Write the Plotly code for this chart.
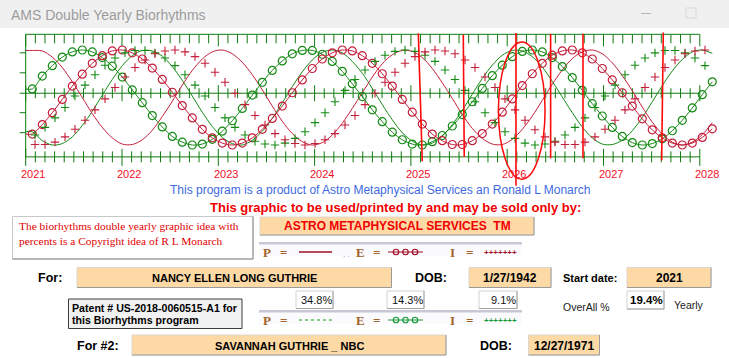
import numpy as np
import plotly.graph_objects as go

W, H = 729, 358

# ---------------- data ----------------
YEARS = [2021, 2022, 2023, 2024, 2025, 2026, 2027, 2028]
YEAR_LABELS = ["2021", "2022", "2023", "2024", "2025", "2026", "2027", "2028"]
SAMPLE_STEP = 0.10384          # years between plotted samples
E_START = 2021.0685            # first sample of the P / E series
I_START = 2021.0966            # first sample of the I series

# person 1 (red) and person 2 (green), percent of cycle amplitude
red_P = [99, 98, 85, 63, 33, 0, -34, -63, -85, -98,
         -99, -89, -69, -40, -8, 26, 57, 81, 96, 100,
         92, 74, 48, 16, -18, -50, -76, -93, -100, -95,
         -79, -54, -23, 10, 43, 71, 90, 99, 97, 84,
         61, 31, -2, -36, -65, -86, -98, -99, -88, -67,
         -39, -6, 28, 58, 82, 96, 100, 92, 73, 46,
         14, -20, -52, -77, -94, -100, -94, -78, -53]
green_P = [-72, -91, -100, -97, -83, -59, -29, 5, 38, 67,
           88, 99, 98, 87, 65, 36, 3, -31, -61, -84,
           -97, -100, -90, -71, -44, -11, 23, 54, 79, 95,
           100, 94, 76, 51, 19, -15, -47, -74, -92, -100,
           -96, -81, -57, -27, 7, 40, 68, 89, 99, 98,
           86, 64, 34, 1, -32, -62, -85, -98, -99, -90,
           -70, -42, -9, 25, 56, 80, 96, 100, 93]
red_E = [-77, -57, -32, -4, 24, 49, 72, 88, 98, 100,
         94, 81, 62, 38, 11, -17, -43, -67, -85, -96,
         -100, -96, -85, -67, -44, -18, 10, 37, 61, 81,
         94, 100, 98, 88, 72, 50, 24, -4, -31, -56,
         -77, -91, -99, -99, -91, -76, -56, -31, -3, 25,
         50, 72, 89, 98, 100, 94, 81, 61, 37, 10,
         -18, -45, -68, -85, -96, -100, -96, -84, -66]
green_E = [18, 45, 67, 85, 96, 100, 96, 84, 66, 43,
           16, -11, -38, -62, -82, -94, -100, -98, -88, -71,
           -49, -23, 5, 32, 57, 77, 92, 99, 99, 91,
           76, 55, 29, 2, -26, -51, -73, -89, -98, -100,
           -93, -80, -60, -36, -9, 19, 46, 68, 86, 97,
           100, 96, 84, 65, 42, 15, -13, -39, -63, -82,
           -95, -100, -97, -87, -70, -48, -22, 6, 33]
red_I = [-99, -99, -94, -83, -67, -48, -26, -3, 21, 43,
         63, 79, 92, 98, 100, 96, 86, 72, 53, 32,
         9, -15, -38, -58, -76, -89, -97, -100, -97, -89,
         -76, -58, -38, -15, 9, 32, 53, 72, 86, 96,
         100, 98, 92, 79, 63, 43, 21, -3, -26, -48,
         -68, -83, -94, -99, -99, -94, -83, -67, -48, -26,
         -3, 21, 43, 63, 79, 92, 98, 100]
green_I = [-79, -63, -43, -21, 3, 26, 48, 68, 83, 94,
           99, 99, 94, 83, 67, 48, 26, 3, -21, -43,
           -63, -79, -92, -98, -100, -96, -86, -72, -53, -32,
           -9, 15, 38, 58, 76, 89, 97, 100, 97, 89,
           76, 58, 38, 15, -9, -32, -53, -72, -86, -96,
           -100, -98, -92, -79, -63, -43, -21, 3, 26, 48,
           68, 83, 94, 99, 99, 94, 83, 67]

LEFT_TICK_LEVELS = [94, 52, 9, -32, -74]
MID_LEVEL = 9
BOX_TOP, BOX_BOTTOM = 133, -125

# hand-drawn red marks: (year_top, year_bottom, value_top, value_bottom)
MARK_LINES = [(2025.077, 2025.118, 135, -134),
              (2025.544, 2025.554, 132, -125),
              (2026.091, 2026.091, 136, -186),
              (2026.451, 2026.451, 134, -128),
              (2026.787, 2026.787, 134, -128),
              (2027.621, 2027.604, 137, -132)]
MARK_ELLIPSE = (2025.909, 2026.393, 117, -172)

PERSON1 = "NANCY ELLEN LONG GUTHRIE"
DOB1 = "1/27/1942"
PERSON2 = "SAVANNAH GUTHRIE _ NBC"
DOB2 = "12/27/1971"
START = "2021"
PCT_VALUES = ["34.8%", "14.3%", "9.1%"]
OVERALL_PCT = "19.4%"

# ---------------- styles ----------------
RED = "#c41e3a"
GREEN = "#148a14"
AXG = "#0f7a0f"
MARK = "#ff0a0a"
ORANGE = "#fdd9a6"
SANS = "Liberation Sans, Arial, sans-serif"
SERIF = "Liberation Serif, Times New Roman, serif"
BROWN = "#a4632a"

X0, X1 = 2020.7331, 2028.3032
Y0, Y1 = -548.42, 205.26
PXV = (Y1 - Y0) / H           # value units per pixel
PXX = (X1 - X0) / W           # years per pixel


def px2x(px):
    return X0 + px * PXX


def py2y(py):
    return Y1 - py * PXV


def fx(px):
    return px / W


def fy(py):
    return 1 - py / H


fig = go.Figure()
shapes = []
ann = []


def segs(pairs, color, width):
    X, Y = [], []
    for (xa, xb, ya, yb) in pairs:
        X += [xa, xb, None]
        Y += [ya, yb, None]
    fig.add_trace(go.Scatter(x=X, y=Y, mode="lines", line=dict(color=color, width=width),
                             hoverinfo="skip"))


# ---------------- chart frame ----------------
minor = np.round(np.arange(YEARS[0], YEARS[-1] + 0.001, 0.1), 2)
tick_pairs = []
for m in minor:
    yr = abs(m - round(m)) < 1e-6
    lt = (12 if yr else 9) * PXV
    tick_pairs.append((m, m, BOX_TOP, BOX_TOP - lt))
    hm = (8 if yr else 5) * PXV
    tick_pairs.append((m, m, MID_LEVEL - hm, MID_LEVEL + hm))
    up = (8 if yr else 5.5) * PXV
    dn = (9 if yr else 5.5) * PXV
    tick_pairs.append((m, m, BOX_BOTTOM + up, BOX_BOTTOM - dn))
for lv in LEFT_TICK_LEVELS:
    tick_pairs.append((YEARS[0] - 6 * PXX, YEARS[0], lv, lv))
tick_pairs += [(YEARS[0], YEARS[-1], BOX_TOP, BOX_TOP),
               (YEARS[0], YEARS[-1], BOX_BOTTOM, BOX_BOTTOM),
               (YEARS[0], YEARS[-1], MID_LEVEL, MID_LEVEL),
               (YEARS[0], YEARS[0], BOX_BOTTOM, BOX_TOP)]
segs(tick_pairs, AXG, 1)

# ---------------- series ----------------
e_x = E_START + SAMPLE_STEP * np.arange(len(red_E))
i_x = I_START + SAMPLE_STEP * np.arange(len(red_I))


def line_trace(vals, color, markers=False):
    xs = [YEARS[0]] + list(e_x)
    ys = [vals[0]] + list(vals)
    fig.add_trace(go.Scatter(x=xs, y=ys, mode="lines",
                             line=dict(color=color, width=1, shape="spline", smoothing=0.9),
                             hoverinfo="skip"))
    if markers:
        fig.add_trace(go.Scatter(x=e_x, y=vals, mode="markers",
                                 marker=dict(symbol="circle-open", size=8, color=color,
                                             line=dict(color=color, width=1.2)),
                                 hoverinfo="skip"))


line_trace(green_P, GREEN)
line_trace(red_P, RED)
line_trace(green_E, GREEN, True)
line_trace(red_E, RED, True)
for vals, col in [(green_I, GREEN), (red_I, RED)]:
    fig.add_trace(go.Scatter(x=i_x, y=vals, mode="markers",
                             marker=dict(symbol="cross-thin", size=6, color=col,
                                         line=dict(color=col, width=1.1)),
                             hoverinfo="skip"))

# hand-drawn red marks
for (xa, xb, ya, yb) in MARK_LINES:
    shapes.append(dict(type="line", xref="x", yref="y", x0=xa, x1=xb, y0=ya, y1=yb,
                       line=dict(color=MARK, width=1.6), layer="above"))
ex0, ex1, ey0, ey1 = MARK_ELLIPSE
shapes.append(dict(type="circle", xref="x", yref="y", x0=ex0, x1=ex1, y0=ey1, y1=ey0,
                   line=dict(color=MARK, width=1.5), layer="above"))

for yv, lab in zip(YEARS, YEAR_LABELS):
    ann.append(dict(x=yv + 0.075, y=py2y(174), xref="x", yref="y", text=lab, showarrow=False,
                    xanchor="center", yanchor="middle",
                    font=dict(size=11, color="#f0102a", family=SANS)))


# ---------------- window chrome & form ----------------
def rect(x0, y0, x1, y1, fill=None, line=None, lw=1, layer="below"):
    shapes.append(dict(type="rect", xref="paper", yref="paper", x0=fx(x0), x1=fx(x1),
                       y0=fy(y1), y1=fy(y0), fillcolor=fill or "rgba(0,0,0,0)",
                       line=dict(color=line or "rgba(0,0,0,0)", width=lw if line else 0),
                       layer=layer))


def pline(x0, y0, x1, y1, color, width=1, dash=None, layer="below"):
    d = dict(color=color, width=width)
    if dash:
        d["dash"] = dash
    shapes.append(dict(type="line", xref="paper", yref="paper", x0=fx(x0), x1=fx(x1),
                       y0=fy(y0), y1=fy(y1), line=d, layer=layer))


def text(px, py, s, size, color, bold=False, family=SANS, anchor="center"):
    ann.append(dict(x=fx(px), y=fy(py), xref="paper", yref="paper",
                    text=f"<b>{s}</b>" if bold else s, showarrow=False,
                    xanchor=anchor, yanchor="middle",
                    font=dict(size=size, color=color, family=family)))


def box3d(x0, y0, x1, y1, fill):
    rect(x0, y0, x1, y1, fill=fill, line="#dcd6cc")
    pline(x0, y1, x1, y1, "#9a9a9a")
    pline(x1, y0, x1, y1, "#9a9a9a")


# title bar
rect(0, 0, W, 28, fill="#f0f0f0")
text(9, 14.5, "AMS Double Yearly Biorhythms", 14, "#9c9c9c", anchor="left")
pline(641, 13.5, 651, 13.5, "#b8b8b8", 1)
rect(686, 8, 696, 18, line="#d8d8d8")

text(380, 190.5, "This program is a product of Astro Metaphysical Services an Ronald L Monarch",
     12, "#3d6be0")
text(395, 207, "This graphic to be used/printed by and may be sold only by:", 13, "#f00000", True)

# copyright box
rect(12.5, 216.5, 253, 259, fill="white", line="#c8c8c8")
pline(12.5, 259, 253, 259, "#8a8a8a")
pline(253, 216.5, 253, 259, "#8a8a8a")
text(17, 226, "The biorhythms double yearly graphic idea with", 11.4, "#e00000", family=SERIF,
     anchor="left")
text(17, 241, "percents is a Copyright idea of R L Monarch", 11.4, "#e00000", family=SERIF,
     anchor="left")

# company box
box3d(260, 217, 534, 235, ORANGE)
text(397.5, 226.5, "ASTRO METAPHYSICAL SERVICES  TM", 12, "#f00000", True)


# legend strips
def strip(yc, line_col, dotted, mark_col):
    rect(259, yc - 10, 522, yc + 4, fill="#fbfbfd")
    rect(259, yc - 10, 522, yc - 7.5, fill="#c6c8d6")
    for px, s in [(266.5, "P"), (283, "="), (360, "E"), (376.5, "="), (452, "I"), (469, "=")]:
        text(px, yc + 0.5, s, 13, BROWN, True, family=SERIF)
    pline(299, yc, 332, yc, line_col, 1.5, "dot" if dotted else None)
    pline(388, yc, 423, yc, mark_col, 1.2)
    fig.add_trace(go.Scatter(x=[px2x(396), px2x(405.5), px2x(415)], y=[py2y(yc)] * 3,
                             mode="markers",
                             marker=dict(symbol="circle-open", size=5.5, color=mark_col,
                                         line=dict(color=mark_col, width=1.2)),
                             hoverinfo="skip"))
    text(500, yc + 0.5, "+++++++", 8, mark_col, True)


strip(252, "#a01028", False, "#a01028")
text(346.5, 254, ". .", 8, "#6a7ab8")
strip(320, "#5cc05c", True, "#1a9a3a")

# person 1 row
text(49.5, 277.5, "For:", 12.5, "black", True)
box3d(77, 267.5, 391.5, 287.5, ORANGE)
text(234, 277.5, PERSON1, 11, "black", True)
text(431, 277.5, "DOB:", 12.5, "black", True)
box3d(469, 267.5, 551, 287.5, ORANGE)
text(510, 277.5, DOB1, 12, "black", True)
text(590, 277.5, "Start date:", 11, "black", True)
box3d(627, 267.5, 711, 287.5, ORANGE)
text(669, 277.5, START, 12, "black", True)

# patent box
rect(68.5, 299, 242, 328.5, fill="#f2f2f2", line="#3c3c3c")
text(69.5, 307.8, "Patent # US-2018-0060515-A1 for", 10.6, "black", True, anchor="left")
text(69.5, 319.5, "this Biorhythms program", 10.6, "black", True, anchor="left")

# percent boxes
for (x0, x1, tx), val in zip([(296, 333, 316), (387, 424, 407.5), (479, 517, 503.5)], PCT_VALUES):
    rect(x0, 291, x1, 308.5, fill="white", line="#d2d2d2")
    pline(x0, 308.5, x1, 308.5, "#a0a0a0")
    pline(x1, 291, x1, 308.5, "#a0a0a0")
    text(tx, 300, val, 11, "#111111")
rect(627, 291, 664, 309, fill="white", line="#d2d2d2")
pline(627, 309, 664, 309, "#a0a0a0")
pline(664, 291, 664, 309, "#a0a0a0")
text(646, 299.5, OVERALL_PCT, 11.5, "black", True)
text(586.5, 306.5, "OverAll %", 10.5, "#1a1a1a")
text(688.5, 304.5, "Yearly", 10.5, "#1a1a1a")

# person 2 row
text(98.5, 346, "For #2:", 12.5, "black", True)
box3d(132, 335, 446, 355, ORANGE)
text(289, 345.5, PERSON2, 11, "black", True)
text(496, 346, "DOB:", 12.5, "black", True)
box3d(528.5, 335, 599.5, 355, ORANGE)
text(564, 345.5, DOB2, 12, "black", True)

fig.update_layout(
    width=W, height=H, margin=dict(l=0, r=0, t=0, b=0, pad=0),
    paper_bgcolor="white", plot_bgcolor="white", showlegend=False,
    xaxis=dict(range=[X0, X1], visible=False, fixedrange=True),
    yaxis=dict(range=[Y0, Y1], visible=False, fixedrange=True),
    shapes=shapes, annotations=ann,
)
fig.write_html("out.html")
